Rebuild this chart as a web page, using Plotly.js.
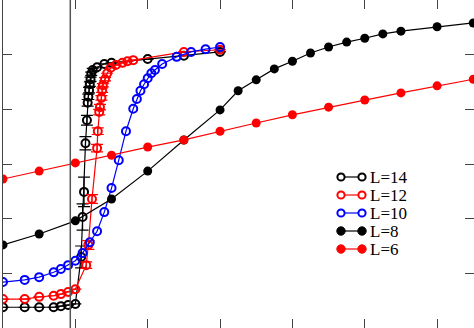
<!DOCTYPE html>
<html>
<head>
<meta charset="utf-8">
<script src="https://cdn.plot.ly/plotly-3.0.1.min.js"></script>
<style>html,body{margin:0;padding:0;background:#fff;}#chart{width:474px;height:328px;}</style>
</head>
<body>
<div id="chart"></div>
<script>
// ---- data ----
const seriesNames = ["L=14", "L=12", "L=10", "L=8", "L=6"];

const xL14 = [0, 0.3, 0.5, 0.7, 0.8, 0.9, 1.0, 1.08, 1.1, 1.12, 1.14, 1.16, 1.17, 1.18, 1.19, 1.2, 1.21, 1.22, 1.24, 1.3, 1.4, 1.5, 2.0, 2.5, 3.0];
const yL14 = [0.38, 0.38, 0.38, 0.38, 0.40, 0.42, 0.44, 1.3, 2.03, 2.49, 3.38, 3.80, 4.12, 4.23, 4.35, 4.46, 4.55, 4.65, 4.72, 4.77, 4.83, 4.85, 4.92, 4.98, 5.05];
const eL14 = [0, 0, 0, 0, 0, 0, 0, 0.2, 0.24, 0.27, 0.12, 0.09, 0.06, 0.05, 0.05, 0.04, 0.04, 0.03, 0.03, 0, 0, 0, 0, 0, 0];

const xL12 = [0, 0.3, 0.5, 0.7, 0.8, 0.9, 1.0, 1.15, 1.18, 1.23, 1.3, 1.31, 1.33, 1.34, 1.36, 1.37, 1.38, 1.41, 1.44, 1.49, 1.56, 1.65, 1.72, 1.8, 2.5, 3.0];
const yL12 = [0.53, 0.53, 0.57, 0.59, 0.62, 0.66, 0.71, 1.15, 1.52, 2.36, 3.29, 3.60, 3.95, 4.04, 4.21, 4.35, 4.44, 4.55, 4.66, 4.76, 4.81, 4.85, 4.88, 4.90, 5.05, 5.09];
const eL12 = [0, 0, 0, 0, 0, 0, 0, 0.06, 0.08, 0.08, 0.07, 0.06, 0.05, 0.05, 0.04, 0.04, 0.03, 0.03, 0, 0, 0, 0, 0, 0, 0, 0];

const xL10 = [0, 0.3, 0.5, 0.7, 0.8, 0.9, 1.0, 1.1, 1.2, 1.3, 1.4, 1.5, 1.6, 1.7, 1.8, 1.85, 1.9, 1.95, 2.0, 2.05, 2.1, 2.2, 2.4, 2.6, 2.8, 3.0];
const yL10 = [0.84, 0.88, 0.93, 1.02, 1.08, 1.15, 1.23, 1.37, 1.57, 1.77, 2.12, 2.56, 3.07, 3.60, 4.01, 4.19, 4.34, 4.46, 4.57, 4.66, 4.72, 4.83, 4.96, 5.05, 5.10, 5.14];

const xL8 = [0, 0.5, 1.0, 1.5, 2.0, 2.5, 3.0, 3.25, 3.5, 3.75, 4.0, 4.25, 4.5, 4.75, 5.0, 5.25, 5.5, 6.0, 6.5];
const yL8 = [1.52, 1.72, 1.96, 2.36, 2.87, 3.44, 3.99, 4.34, 4.54, 4.74, 4.88, 5.03, 5.14, 5.23, 5.30, 5.38, 5.43, 5.51, 5.58];

const xL6 = [0, 0.5, 1.0, 1.5, 2.0, 2.5, 3.0, 3.5, 4.0, 4.5, 5.0, 5.5, 6.0, 6.5];
const yL6 = [2.725, 2.87, 3.02, 3.16, 3.31, 3.44, 3.60, 3.75, 3.90, 4.04, 4.17, 4.30, 4.43, 4.55];

const criticalX = 0.93;
const xTicks = [1, 2, 3, 4, 5, 6];
const yTicks = [1, 2, 3, 4, 5];

// ---- styles ----
const colors = ["#000000", "#ff0000", "#0000ff", "#000000", "#ff0000"];
const openMarker = [true, true, true, false, false];
const xs = [xL14, xL12, xL10, xL8, xL6];
const ys = [yL14, yL12, yL10, yL8, yL6];
const errs = [eL14, eL12, null, null, null];

const traces = seriesNames.map((name, i) => {
  const t = {
    type: "scatter", mode: "lines+markers", name: name, x: xs[i], y: ys[i],
    line: {color: colors[i], width: 1.2},
    marker: openMarker[i]
      ? {symbol: "circle-open", size: 8, color: colors[i], line: {width: 2, color: colors[i]}}
      : {symbol: "circle", size: 9, color: colors[i]},
    showlegend: false, cliponaxis: true
  };
  if (errs[i]) {
    t.error_y = {type: "data", array: errs[i], visible: true, color: colors[i], thickness: 1.2, width: 6};
  }
  return t;
});

// ---- custom legend (symbol: line with two markers) ----
const W = 474, H = 328, ML = 3;
const PW = W - ML;
const legRowsPx = [177, 195, 213, 231, 249];
const legSym0 = 341, legSym1 = 362, legText = 369;
const px2x = p => (p - ML) / PW;
const py2y = p => 1 - p / H;
const shapes = [{
  type: "line", xref: "x", yref: "paper", x0: criticalX, x1: criticalX, y0: 0, y1: 1,
  line: {color: "#555555", width: 1.5}
}];
const annotations = [];
seriesNames.forEach((name, i) => {
  const yp = py2y(legRowsPx[i]);
  shapes.push({type: "line", xref: "paper", yref: "paper", x0: px2x(legSym0), x1: px2x(legSym1), y0: yp, y1: yp,
    line: {color: colors[i], width: 1.2}});
  [legSym0, legSym1].forEach(p => {
    const r = openMarker[i] ? 3.6 : 4.2;
    shapes.push({type: "circle", xref: "paper", yref: "paper", xsizemode: "pixel", ysizemode: "pixel",
      xanchor: px2x(p), yanchor: yp, x0: -r, x1: r, y0: -r, y1: r,
      fillcolor: openMarker[i] ? "#ffffff" : colors[i],
      line: {color: colors[i], width: openMarker[i] ? 2 : 1}});
  });
  annotations.push({xref: "paper", yref: "paper", x: px2x(legText), y: yp, xanchor: "left", yanchor: "middle",
    text: name, showarrow: false, borderpad: 0,
    font: {family: "Liberation Serif, Times New Roman, serif", size: 17, color: "#000"}});
});

const layout = {
  width: W, height: H,
  margin: {l: ML, r: 0, t: 0, b: 0, pad: 0},
  paper_bgcolor: "#ffffff", plot_bgcolor: "#ffffff",
  showlegend: false,
  xaxis: {range: [0, PW / 72.35], tickvals: xTicks, ticks: "inside", ticklen: 9, tickwidth: 1, tickcolor: "#444",
    showticklabels: false, showgrid: false, zeroline: false, showline: false, mirror: "ticks"},
  yaxis: {range: [0, 6], tickvals: yTicks, ticks: "inside", ticklen: 9, tickwidth: 1, tickcolor: "#444",
    showticklabels: false, showgrid: false, zeroline: false, showline: true, linecolor: "#444", linewidth: 1.5, mirror: "ticks"},
  shapes: shapes,
  annotations: annotations
};

Plotly.newPlot("chart", traces, layout, {staticPlot: true, displayModeBar: false});
</script>
</body>
</html>
